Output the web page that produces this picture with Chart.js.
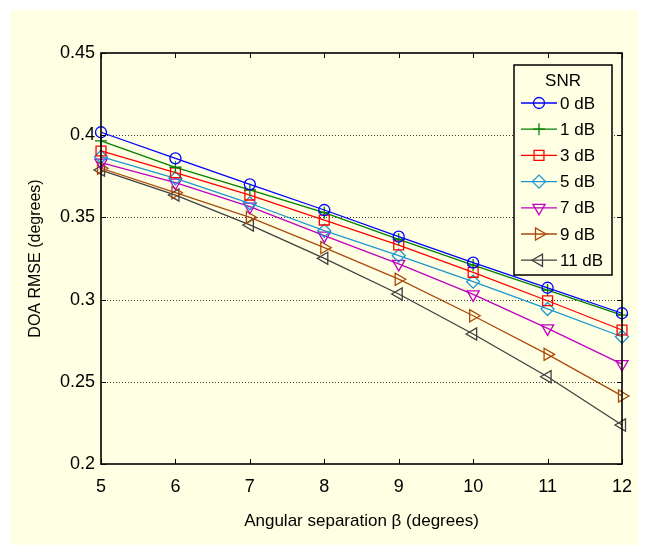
<!DOCTYPE html>
<html>
<head>
<meta charset="utf-8">
<script src="https://cdn.jsdelivr.net/npm/chart.js"></script>
<style>
  body { margin: 0; background: #fff; }
  #wrap { width: 646px; height: 546px; }
</style>
</head>
<body>
<div id="wrap"><canvas id="rmse-chart" width="646" height="546"></canvas></div>
<script>
// angular separation (degrees)
var separations = [5, 6, 7, 8, 9, 10, 11, 12];

// DOA RMSE per SNR
var snr0 = [0.4018, 0.3859, 0.3701, 0.3545, 0.3383, 0.3225, 0.3072, 0.2917];
var snr1 = [0.3965, 0.3805, 0.3668, 0.3529, 0.3367, 0.3210, 0.3058, 0.2906];
var snr3 = [0.3904, 0.3772, 0.3636, 0.3484, 0.3332, 0.3166, 0.2993, 0.2815];
var snr5 = [0.3869, 0.3738, 0.3586, 0.3419, 0.3267, 0.3109, 0.2943, 0.2774];
var snr7 = [0.3833, 0.3711, 0.3565, 0.3389, 0.3217, 0.3032, 0.2825, 0.2608];
var snr9 = [0.3799, 0.3650, 0.3500, 0.3316, 0.3124, 0.2902, 0.2667, 0.2414];
var snr11 = [0.3788, 0.3636, 0.3454, 0.3251, 0.3034, 0.2791, 0.2531, 0.2237];

var seriesLabels = ['0 dB', '1 dB', '3 dB', '5 dB', '7 dB', '9 dB', '11 dB'];
var seriesValues = [snr0, snr1, snr3, snr5, snr7, snr9, snr11];

var xTicks = [5, 6, 7, 8, 9, 10, 11, 12];
var yTicks = [0.2, 0.25, 0.3, 0.35, 0.4, 0.45];
var yTickLabels = ['0.2', '0.25', '0.3', '0.35', '0.4', '0.45'];

var colors = ['#0000ff', '#008000', '#ff0000', '#1e96d2', '#bf00bf', '#aa4a0a', '#404040'];
var markers = [
  { style: 'circle', rot: 0, r: 5.5 },
  { style: 'cross', rot: 0, r: 6 },
  { style: 'rect', rot: 0, r: 7 },
  { style: 'rectRot', rot: 0, r: 6.5 },
  { style: 'triangle', rot: 180, r: 7 },
  { style: 'triangle', rot: 90, r: 7 },
  { style: 'triangle', rot: 270, r: 7 }
];

var FONT = '"Liberation Sans", Arial, sans-serif';
var BG = '#ffffe3';

var datasets = seriesValues.map(function (vals, i) {
  return {
    label: seriesLabels[i],
    data: vals.map(function (v, j) { return { x: separations[j], y: v }; }),
    borderColor: colors[i],
    backgroundColor: 'transparent',
    borderWidth: 1.3,
    pointStyle: markers[i].style,
    pointRotation: markers[i].rot,
    pointRadius: markers[i].r,
    pointHoverRadius: markers[i].r,
    pointBorderColor: colors[i],
    pointBackgroundColor: 'transparent',
    pointBorderWidth: 1.3,
    tension: 0,
    clip: false
  };
});

function drawMarker(ctx, style, rot, r, x, y) {
  ctx.save();
  ctx.translate(x, y);
  ctx.rotate(rot * Math.PI / 180);
  ctx.beginPath();
  if (style === 'circle') {
    ctx.arc(0, 0, r, 0, Math.PI * 2);
  } else if (style === 'cross') {
    ctx.moveTo(0, -r); ctx.lineTo(0, r);
    ctx.moveTo(-r, 0); ctx.lineTo(r, 0);
  } else if (style === 'rect') {
    var s = Math.SQRT1_2 * r;
    ctx.rect(-s, -s, 2 * s, 2 * s);
  } else if (style === 'rectRot') {
    ctx.moveTo(0, -r); ctx.lineTo(r, 0); ctx.lineTo(0, r); ctx.lineTo(-r, 0); ctx.closePath();
  } else if (style === 'triangle') {
    for (var k = 0; k < 3; k++) {
      var a = k * 2 * Math.PI / 3;
      if (k === 0) ctx.moveTo(Math.sin(a) * r, -Math.cos(a) * r);
      else ctx.lineTo(Math.sin(a) * r, -Math.cos(a) * r);
    }
    ctx.closePath();
  }
  ctx.stroke();
  ctx.restore();
}

var matlabLook = {
  id: 'matlabLook',
  beforeDraw: function (chart) {
    var ctx = chart.ctx;
    ctx.save();
    ctx.fillStyle = '#ffffff';
    ctx.fillRect(0, 0, chart.width, chart.height);
    ctx.fillStyle = BG;
    ctx.fillRect(10, 10, 628, 535);
    ctx.restore();
  },
  beforeDatasetsDraw: function (chart) {
    var ctx = chart.ctx, a = chart.chartArea, ys = chart.scales.y;
    ctx.save();
    ctx.strokeStyle = '#3a3a3a';
    ctx.lineWidth = 1;
    ctx.setLineDash([1, 2]);
    yTicks.forEach(function (v) {
      if (v <= ys.min || v >= ys.max) return;
      var py = Math.round(ys.getPixelForValue(v)) + 0.5;
      ctx.beginPath();
      ctx.moveTo(a.left, py);
      ctx.lineTo(a.right, py);
      ctx.stroke();
    });
    ctx.restore();
  },
  afterDatasetsDraw: function (chart) {
    var ctx = chart.ctx, a = chart.chartArea;
    var xs = chart.scales.x, ys = chart.scales.y;
    ctx.save();
    // inward tick marks on all four sides
    ctx.strokeStyle = '#000';
    ctx.lineWidth = 1;
    var tl = 5;
    xTicks.forEach(function (v) {
      var px = Math.round(xs.getPixelForValue(v)) + 0.5;
      ctx.beginPath();
      ctx.moveTo(px, a.bottom); ctx.lineTo(px, a.bottom - tl);
      ctx.moveTo(px, a.top); ctx.lineTo(px, a.top + tl);
      ctx.stroke();
    });
    yTicks.forEach(function (v) {
      var py = Math.round(ys.getPixelForValue(v)) + 0.5;
      ctx.beginPath();
      ctx.moveTo(a.left, py); ctx.lineTo(a.left + tl, py);
      ctx.moveTo(a.right, py); ctx.lineTo(a.right - tl, py);
      ctx.stroke();
    });
    // axes box
    ctx.lineWidth = 1.6;
    ctx.strokeRect(a.left, a.top, a.right - a.left, a.bottom - a.top);

    // legend with title
    var bx = a.right - 108, by = a.top + 12, bw = 98, bh = 210;
    ctx.fillStyle = BG;
    ctx.fillRect(bx, by, bw, bh);
    ctx.lineWidth = 1.5;
    ctx.strokeStyle = '#000';
    ctx.strokeRect(bx, by, bw, bh);
    ctx.fillStyle = '#000';
    ctx.font = '17px ' + FONT;
    ctx.textBaseline = 'middle';
    ctx.textAlign = 'center';
    ctx.fillText('SNR', bx + 49, by + 16);
    ctx.textAlign = 'left';
    chart.data.datasets.forEach(function (ds, i) {
      var ly = by + 38 + i * 26.2;
      ctx.strokeStyle = ds.borderColor;
      ctx.lineWidth = 1.3;
      ctx.beginPath();
      ctx.moveTo(bx + 7, ly); ctx.lineTo(bx + 43, ly);
      ctx.stroke();
      drawMarker(ctx, ds.pointStyle, ds.pointRotation, ds.pointRadius, bx + 25, ly);
      ctx.fillStyle = '#000';
      ctx.fillText(ds.label, bx + 46, ly + 1);
    });
    ctx.restore();
  }
};

new Chart('rmse-chart', {
  type: 'line',
  data: { datasets: datasets },
  options: {
    responsive: false,
    animation: false,
    events: [],
    layout: { padding: { left: 0, top: 53, right: 24, bottom: 0 } },
    plugins: {
      legend: { display: false },
      tooltip: { enabled: false }
    },
    scales: {
      x: {
        type: 'linear',
        min: 5,
        max: 12,
        afterBuildTicks: function (scale) {
          scale.ticks = xTicks.map(function (v) { return { value: v }; });
        },
        afterFit: function (scale) { scale.height = 82; },
        grid: { display: false, drawTicks: false },
        border: { display: false },
        ticks: {
          color: '#000',
          padding: 12,
          maxRotation: 0,
          autoSkip: false,
          font: { family: FONT, size: 18 },
          callback: function (v) { return String(v); }
        },
        title: {
          display: true,
          text: 'Angular separation β (degrees)',
          color: '#000',
          font: { family: FONT, size: 17 },
          padding: { top: 0, bottom: 14 }
        }
      },
      y: {
        type: 'linear',
        min: 0.2,
        max: 0.45,
        afterBuildTicks: function (scale) {
          scale.ticks = yTicks.map(function (v) { return { value: v }; });
        },
        afterFit: function (scale) { scale.width = 101; },
        grid: { display: false, drawTicks: false },
        border: { display: false },
        ticks: {
          color: '#000',
          padding: 6,
          autoSkip: false,
          font: { family: FONT, size: 18 },
          callback: function (v, i) { return yTickLabels[i]; }
        },
        title: {
          display: true,
          text: 'DOA RMSE (degrees)',
          color: '#000',
          font: { family: FONT, size: 16 },
          padding: { top: 26, bottom: 0 }
        }
      }
    }
  },
  plugins: [matlabLook]
});
</script>
</body>
</html>
